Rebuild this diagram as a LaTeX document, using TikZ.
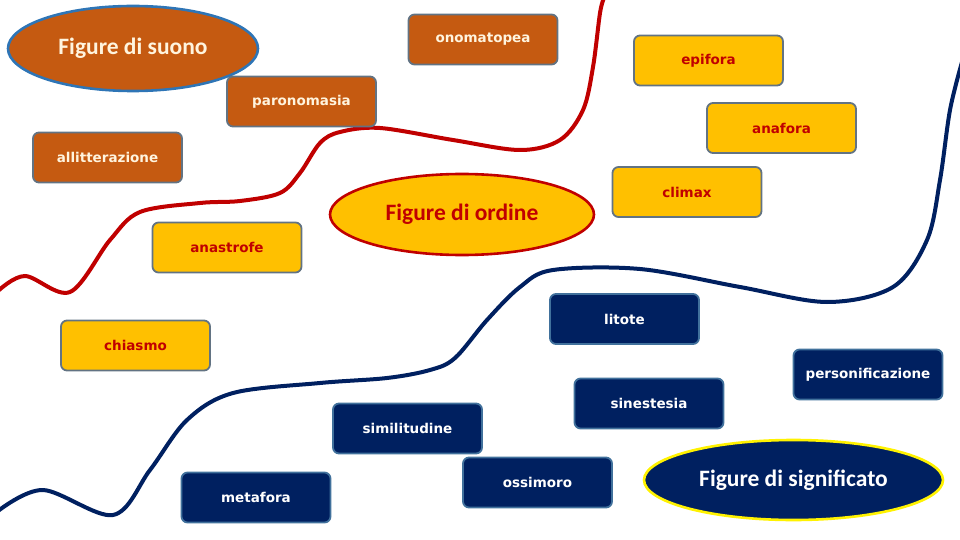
\documentclass[tikz,border=0pt]{standalone}
\usepackage{fontspec}
\setmainfont{Carlito}
\newfontfamily\boxfont{DejaVu Sans}
\usetikzlibrary{shapes.geometric}
\definecolor{suonobrown}{HTML}{C55A11}
\definecolor{ordineyellow}{HTML}{FFC000}
\definecolor{signavy}{HTML}{002060}
\definecolor{ordinered}{HTML}{C00000}
\definecolor{suonoblue}{HTML}{2E75B6}
\definecolor{boxedge}{HTML}{627383}
\definecolor{navyedge}{HTML}{41719C}
\definecolor{cream}{HTML}{FFF4DE}
\begin{document}
\begin{tikzpicture}[x=1pt, y=-1pt,
    figbox/.style={draw, rounded corners=6pt, line width=1.8pt, minimum width=149pt, minimum height=50pt,
      inner sep=0pt, font=\boxfont\bfseries\fontsize{13.5}{16}\selectfont},
    suonobox/.style={figbox, fill=suonobrown, draw=boxedge, text=cream},
    ordinebox/.style={figbox, fill=ordineyellow, draw=boxedge, text=ordinered},
    signbox/.style={figbox, fill=signavy, draw=navyedge, text=white},
    figell/.style={ellipse, line width=2.6pt, inner sep=0pt, font=\bfseries\fontsize{23.5}{28}\selectfont}]
    \useasboundingbox (0,0) rectangle (960,540);
    % wavy dividing lines (pixel coordinates, y down)
    \draw[ordinered, line width=4pt, line cap=round] plot[smooth, tension=0.55] coordinates {
      (-2,291) (25,276) (70,292) (110,240) (140,212) (200,203) (240,201) (280,193) (300,173)
      (320,143) (340,132) (380,128) (453,140) (520,150) (560,140) (583,110) (593,67) (600,13) (604,-2)};
    \draw[signavy, line width=4pt, line cap=round] plot[smooth, tension=0.55] coordinates {
      (-2,511) (43,490) (113,515) (150,470) (187,420) (233,393) (320,383) (387,378) (430,370)
      (455,358) (487,320) (520,287) (553,270) (640,269) (740,287) (827,302) (893,287) (927,240)
      (940,180) (950,110) (962,62)};
    % figure di suono
    \node[figell, fill=suonobrown, draw=suonoblue, text=cream, minimum width=250pt, minimum height=85pt]
      (suono) at (133,48.5) {Figure di suono};
    \node[suonobox] (onomatopea) at (483,39.5) {onomatopea};
    \node[suonobox] (paronomasia) at (301.5,101.5) {paronomasia};
    \node[suonobox] (allitterazione) at (107.5,157.5) {allitterazione};
    % figure di ordine
    \node[figell, fill=ordineyellow, draw=ordinered, text=ordinered, minimum width=264pt, minimum height=81pt]
      (ordine) at (462,214.5) {Figure di ordine};
    \node[ordinebox] (epifora) at (708.5,60.5) {epifora};
    \node[ordinebox] (anafora) at (781.5,128) {anafora};
    \node[ordinebox] (climax) at (687,192) {climax};
    \node[ordinebox] (anastrofe) at (227,247.5) {anastrofe};
    \node[ordinebox] (chiasmo) at (135.5,345.5) {chiasmo};
    % figure di significato
    \node[figell, fill=signavy, draw=yellow, text=white, minimum width=299pt, minimum height=80pt]
      (significato) at (793.5,480) {Figure di significato};
    \node[signbox] (litote) at (624.5,319) {litote};
    \node[signbox] (personificazione) at (868,374.5) {personificazione};
    \node[signbox] (sinestesia) at (649,403.5) {sinestesia};
    \node[signbox] (similitudine) at (407.5,428.5) {similitudine};
    \node[signbox] (ossimoro) at (537.5,482.5) {ossimoro};
    \node[signbox] (metafora) at (256,497.5) {metafora};
\end{tikzpicture}
\end{document}
